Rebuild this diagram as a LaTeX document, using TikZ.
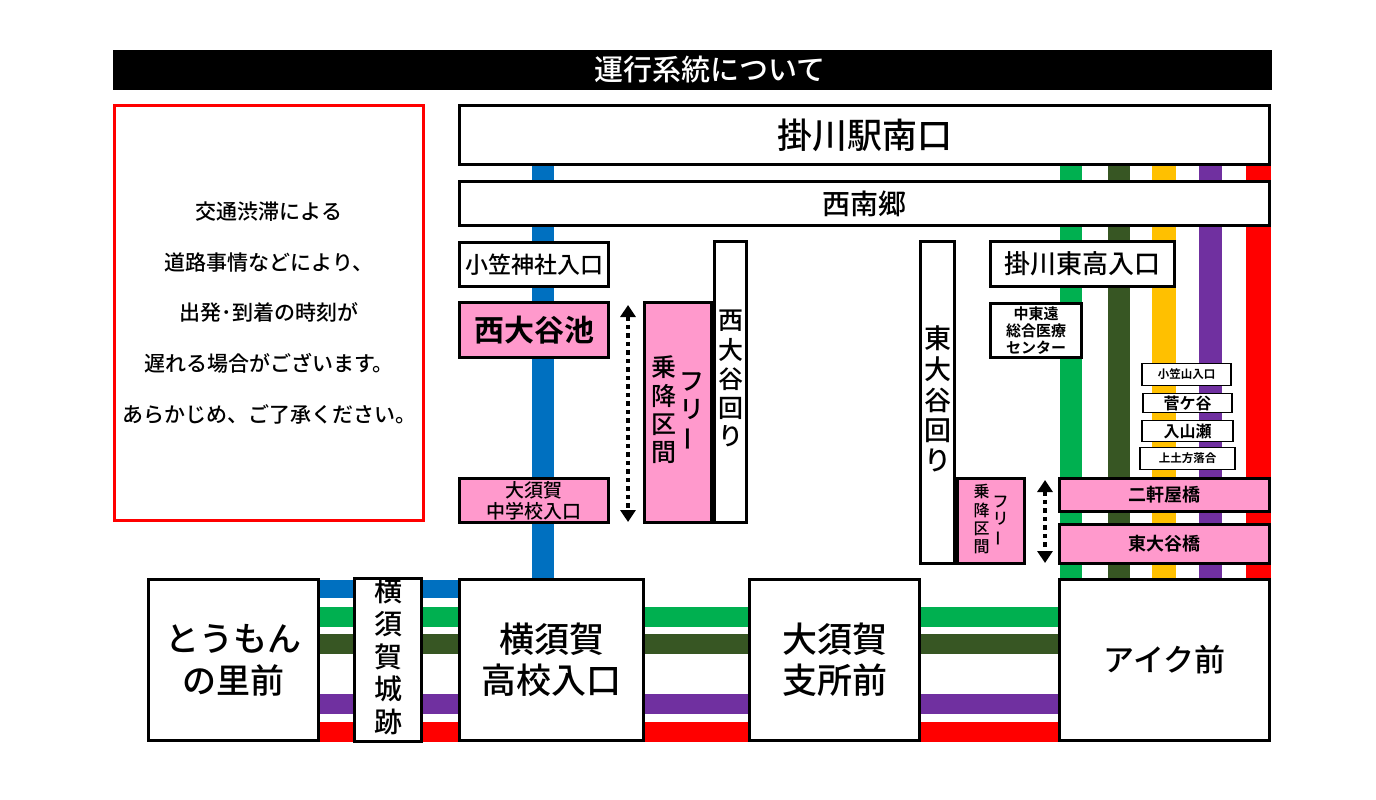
\documentclass[tikz,border=0pt]{standalone}
\usepackage{fontspec}
\setmainfont{Noto Sans CJK JP Medium}[BoldFont={Noto Sans CJK JP Bold}]
\usetikzlibrary{arrows.meta}

\definecolor{stoppink}{RGB}{255,153,204}
\definecolor{lineblue}{RGB}{0,112,192}
\definecolor{linegreen}{RGB}{0,176,80}
\definecolor{linedkgreen}{RGB}{55,86,35}
\definecolor{lineyellow}{RGB}{255,192,0}
\definecolor{linepurple}{RGB}{112,48,160}
\definecolor{linered}{RGB}{255,0,0}

\newcommand{\fs}[2]{\fontsize{#1}{#2}\selectfont}
\newcommand{\tate}[1]{\begin{tabular}{@{}c@{}}#1\end{tabular}}
\newcommand{\tatebar}{\rotatebox[origin=c]{90}{ー}}

\begin{document}
\begin{tikzpicture}[x=1pt, y=-1pt, line join=miter,
                    stopbox/.style={draw, line width=3pt, fill=white,
                                    inner sep=0pt, align=center},
                    pinkbox/.style={stopbox, fill=stoppink},
                    smallbox/.style={stopbox, line width=1.2pt},
                    route/.style={line width=#1, line cap=butt},
                    freearrow/.style={line width=4.5pt, dash pattern=on 4.5pt off 4pt,
                                      {Triangle[width=15pt,length=12pt]}-{Triangle[width=15pt,length=12pt]}}]
  \useasboundingbox (0,0) rectangle (1376,800);

  % route lines (behind the stops)
  \draw[route=22pt, lineblue] (543,166) -- (543,589);
  \draw[route=18pt, lineblue] (554,589) -- (320,589);
  \foreach \x/\y/\c/\w in {1071/616.5/linegreen/22pt, 1118.5/644/linedkgreen/22pt,
                           1163.5/660/lineyellow/24pt, 1210.5/704/linepurple/23pt,
                           1258.5/732/linered/25pt} {
      \draw[route=\w, \c] (\x,166) -- (\x,\y);
  }
  \foreach \y/\c in {616.5/linegreen, 644/linedkgreen, 704/linepurple, 732/linered} {
      \draw[route=20pt, \c] (1100,\y) -- (320,\y);
  }

  % title and note
  \node[fill=black, minimum width=1159pt, minimum height=40pt, inner sep=0pt]
       (titlebar) at (692.5,70) {};
  \node[text=white, font=\fs{29}{31}] (title) at (710,70) {運行系統について};
  \node[draw=linered, line width=3pt, minimum width=309pt, minimum height=415pt,
        align=center, font=\fs{21}{50.7}] (note) at (269,313)
       {交通渋滞による\\道路事情などにより、\\出発･到着の時刻が\\遅れる場合がございます。\\あらかじめ、ご了承ください。};

  % upper stops
  \node[stopbox, minimum width=810pt, minimum height=59pt, font=\fs{35}{37}]
       (eki) at (864.5,135) {掛川駅南口};
  \node[stopbox, minimum width=810pt, minimum height=44pt, font=\fs{28}{30}]
       (seinan) at (864.5,203.5) {西南郷};

  % west side
  \node[stopbox, minimum width=149pt, minimum height=44pt, font=\fs{23}{25}]
       (ogasa) at (534,264.5) {小笠神社入口};
  \node[pinkbox, minimum width=149pt, minimum height=55pt, font=\bfseries\fs{30}{32}]
       (ikebox) at (534,330) {西大谷池};
  \node[pinkbox, minimum width=149pt, minimum height=44pt, font=\fs{19}{21}]
       (osukachu) at (534,500.5) {大須賀\\中学校入口};
  \node[pinkbox, minimum width=67pt, minimum height=220pt, font=\fs{25}{27}]
       (freew) at (678,412.5) {\tate{乗\\降\\区\\間}\hspace{3pt}\tate{フ\\リ\\\tatebar}};
  \node[stopbox, minimum width=32pt, minimum height=281pt, font=\fs{25}{28}]
       (nishimawari) at (730.5,382) {\tate{西\\大\\谷\\回\\り}};
  \coordinate (aw1) at (628,305);
  \coordinate (aw2) at (628,522);
  \draw[freearrow] (aw1) -- (aw2);

  % east side
  \node[stopbox, minimum width=34pt, minimum height=322pt, font=\fs{27}{28}]
       (higashimawari) at (937.5,402.5) {\tate{東\\大\\谷\\回\\り}};
  \node[pinkbox, minimum width=67pt, minimum height=85pt, font=\fs{16}{17.5}]
       (freee) at (991,521) {\tate{乗\\降\\区\\間}\hspace{3pt}\tate{フ\\リ\\\tatebar}};
  \node[stopbox, minimum width=184pt, minimum height=45pt, font=\fs{26}{28}]
       (kakehigashi) at (1082.5,264) {掛川東高入口};
  \node[stopbox, minimum width=91pt, minimum height=54pt, font=\bfseries\fs{15}{17}]
       (chutoen) at (1036,330.5) {中東遠\\総合医療\\センター};
  \node[smallbox, minimum width=89pt, minimum height=22pt, font=\bfseries\fs{11.5}{13}]
       (ogasayama) at (1186.5,374.5) {小笠山入口};
  \node[smallbox, minimum width=89pt, minimum height=19pt, font=\bfseries\fs{16}{18}]
       (sugegaya) at (1187.5,403) {菅ケ谷};
  \node[smallbox, minimum width=91pt, minimum height=21pt, font=\bfseries\fs{16}{18}]
       (iriyamase) at (1187.5,431) {入山瀬};
  \node[smallbox, minimum width=95pt, minimum height=22pt, font=\bfseries\fs{11.5}{13}]
       (kamihijikata) at (1187.5,458.5) {上土方落合};
  \node[pinkbox, minimum width=210pt, minimum height=33pt, font=\bfseries\fs{18}{20}]
       (nikenya) at (1164.5,495) {二軒屋橋};
  \node[pinkbox, minimum width=210pt, minimum height=39pt, font=\bfseries\fs{18}{20}]
       (higashibashi) at (1164.5,544) {東大谷橋};
  \coordinate (ae1) at (1045,480);
  \coordinate (ae2) at (1045,563);
  \draw[freearrow] (ae1) -- (ae2);

  % lower stops
  \node[stopbox, minimum width=170pt, minimum height=161pt, font=\fs{34}{42}]
       (tomon) at (233.5,660) {とうもん\\の里前};
  \node[stopbox, minimum width=67pt, minimum height=161pt, font=\fs{28}{30.5}]
       (yokojo) at (388,660) {\tate{横\\須\\賀\\城\\跡}};
  \node[stopbox, minimum width=184pt, minimum height=161pt, font=\fs{35}{41}]
       (yokoko) at (551.5,660) {横須賀\\高校入口};
  \node[stopbox, minimum width=170pt, minimum height=161pt, font=\fs{35}{41}]
       (osukashisho) at (834.5,660) {大須賀\\支所前};
  \node[stopbox, minimum width=210pt, minimum height=161pt, font=\fs{31}{33}]
       (aiku) at (1164.5,660) {アイク前};
\end{tikzpicture}
\end{document}
